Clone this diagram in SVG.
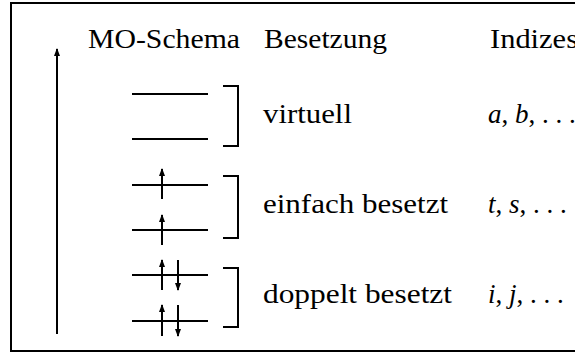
<svg xmlns="http://www.w3.org/2000/svg" width="575" height="352" viewBox="0 0 575 352">
<style>
.t{font-family:'Liberation Serif','DejaVu Serif','Times New Roman',serif;font-size:27px;fill:#000}
.i{font-style:italic}
.ln{stroke:#000;stroke-width:2;fill:none}
.br{stroke:#000;stroke-width:2;fill:none;stroke-linejoin:miter}
</style>
<defs>
<marker id="ah" viewBox="0 0 8 6" refX="7" refY="3" markerWidth="8" markerHeight="6" markerUnits="userSpaceOnUse" orient="auto">
<path d="M0,0 L8,3 L0,6 Z" fill="#000"/>
</marker>
</defs>
<rect x="11" y="3" width="600" height="348" fill="#fff" stroke="#000" stroke-width="2"/>
<g id="headers" font-family="Liberation Serif, DejaVu Serif, serif">
<text class="t" x="88" y="48" textLength="152" lengthAdjust="spacingAndGlyphs">MO-Schema</text>
<text class="t" x="264" y="48" textLength="123" lengthAdjust="spacingAndGlyphs">Besetzung</text>
<text class="t" x="490" y="48" textLength="88" lengthAdjust="spacingAndGlyphs">Indizes</text>
</g>
<g id="connectors">
<line class="ln" x1="57" y1="334" x2="57" y2="49" marker-end="url(#ah)"/>
</g>
<g id="virtuell">
<line class="ln" x1="132" y1="94" x2="208" y2="94"/>
<line class="ln" x1="132" y1="139" x2="208" y2="139"/>
<path class="br" d="M223,86 H238 V146 H223"/>
<text class="t" x="263" y="123" textLength="89" lengthAdjust="spacingAndGlyphs">virtuell</text>
<text class="t" x="488" y="123"><tspan class="i">a</tspan>, <tspan class="i">b</tspan>, . . .</text>
</g>
<g id="einfach">
<line class="ln" x1="132" y1="185" x2="208" y2="185"/>
<line class="ln" x1="132" y1="230" x2="208" y2="230"/>
<line class="ln" x1="162" y1="199" x2="162" y2="169" marker-end="url(#ah)"/>
<line class="ln" x1="162" y1="245" x2="162" y2="215" marker-end="url(#ah)"/>
<path class="br" d="M223,176 H238 V238 H223"/>
<text class="t" x="263" y="213" textLength="185" lengthAdjust="spacingAndGlyphs">einfach besetzt</text>
<text class="t" x="488" y="213"><tspan class="i">t</tspan>, <tspan class="i">s</tspan>, . . .</text>
</g>
<g id="doppelt">
<line class="ln" x1="132" y1="275" x2="208" y2="275"/>
<line class="ln" x1="132" y1="321" x2="208" y2="321"/>
<line class="ln" x1="162" y1="290" x2="162" y2="260" marker-end="url(#ah)"/>
<line class="ln" x1="178" y1="260" x2="178" y2="290" marker-end="url(#ah)"/>
<line class="ln" x1="162" y1="336" x2="162" y2="305" marker-end="url(#ah)"/>
<line class="ln" x1="178" y1="305" x2="178" y2="336" marker-end="url(#ah)"/>
<path class="br" d="M223,268 H238 V327 H223"/>
<text class="t" x="263" y="303" textLength="189" lengthAdjust="spacingAndGlyphs">doppelt besetzt</text>
<text class="t" x="488" y="303"><tspan class="i">i</tspan>, <tspan class="i">j</tspan>, . . .</text>
</g>
</svg>
